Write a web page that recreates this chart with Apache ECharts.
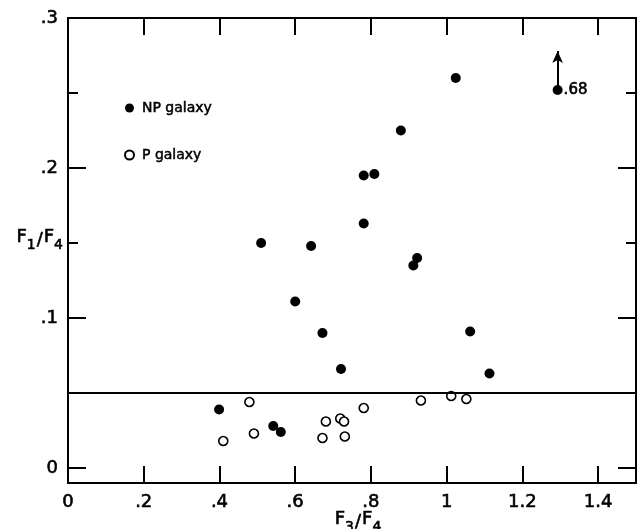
<!DOCTYPE html>
<html>
<head>
<meta charset="utf-8">
<script src="https://cdn.jsdelivr.net/npm/echarts@6/dist/echarts.min.js"></script>
<style>
html,body{margin:0;padding:0;background:#fff;}
#chart{width:639px;height:529px;}
</style>
</head>
<body>
<div id="chart"></div>
<script>
// ---- data ----
const xTickValues = [0, 0.2, 0.4, 0.6, 0.8, 1, 1.2, 1.4];
const yMajorTicks = [0, 0.1, 0.2, 0.3];
const yMinorTicks = [0.05, 0.15, 0.25];

const npX = [0.399, 0.542, 0.562, 0.510, 0.600, 0.642, 0.672, 0.721, 0.781, 0.781, 0.809, 0.879, 0.912, 0.922, 1.024, 1.062, 1.113];
const npY = [0.039, 0.028, 0.024, 0.150, 0.111, 0.148, 0.090, 0.066, 0.163, 0.195, 0.196, 0.225, 0.135, 0.140, 0.260, 0.091, 0.063];

const pX = [0.410, 0.479, 0.491, 0.672, 0.681, 0.719, 0.729, 0.731, 0.781, 0.932, 1.012, 1.052];
const pY = [0.018, 0.044, 0.023, 0.020, 0.031, 0.033, 0.031, 0.021, 0.040, 0.045, 0.048, 0.046];

// lower-limit point (true value .68, off the scale)
const limitX = [1.293];
const limitY = [0.252];
const limitLabel = ['.68'];
const limitArrowTop = 0.278;

const dividerY = 0.05;

// ---- chart ----
const FONT = 'DejaVu Sans';
const INK = '#000';
const fmt = v => (v === 0 ? '0' : String(+v.toFixed(2)).replace(/^0\./, '.'));
const thick = { textBorderColor: INK, textBorderWidth: 0.6 };

const npData = npX.map((x, i) => [x, npY[i]]);
limitX.forEach((x, i) => npData.push({
  value: [x, limitY[i]],
  label: Object.assign({ show: true, formatter: limitLabel[i], position: 'right', distance: 1,
           color: INK, fontFamily: FONT, fontSize: 15 }, thick)
}));
const pData = pX.map((x, i) => [x, pY[i]]);

const lineStyle = { color: INK, width: 2 };
const baseX = {
  type: 'value', min: 0, max: 1.5, offset: 0,
  splitLine: { show: false },
  axisLine: { show: true, onZero: false, lineStyle },
};
const baseY = {
  type: 'value', min: -0.01, max: 0.3, offset: 0,
  splitLine: { show: false },
  axisLine: { show: true, onZero: false, lineStyle },
};
const hiddenLine = { show: false, onZero: false };
const subRich = {
  f: Object.assign({ fontSize: 18, color: INK, fontFamily: FONT }, thick),
  sl: Object.assign({ fontSize: 18, color: INK, fontFamily: FONT, padding: [6, 1, 0, 1] }, thick),
  s: Object.assign({ fontSize: 14, color: INK, fontFamily: FONT, padding: [16, 0, 0, 0] }, thick)
};

const option = {
  backgroundColor: '#fff',
  animation: false,
  textStyle: { fontFamily: FONT },
  grid: { left: 68, right: 3, top: 18, bottom: 46, containLabel: false, outerBoundsMode: 'none' },
  legend: {
    orient: 'vertical', left: 119, top: 95,
    itemWidth: 9, itemHeight: 9, itemGap: 31,
    icon: 'circle',
    textStyle: Object.assign({ fontFamily: FONT, fontSize: 14, color: INK, lineHeight: 16, padding: [0, 0, 0, 3] }, { textBorderColor: INK, textBorderWidth: 0.5 }),
    data: ['NP galaxy', 'P galaxy']
  },
  xAxis: [
    Object.assign({}, baseX, {
      position: 'bottom',
      axisTick: { show: true, inside: true, length: 17, customValues: xTickValues, lineStyle },
      axisLabel: Object.assign({ show: true, customValues: xTickValues, formatter: fmt, margin: 10,
                   fontSize: 18, color: INK, fontFamily: FONT }, thick),
      name: '{f|F}{s|3}{sl|/}{f|F}{s|4}',
      nameLocation: 'middle', nameGap: 21, nameMoveOverlap: false,
      nameTextStyle: { rich: subRich, padding: [0, 0, 0, 12] }
    }),
    Object.assign({}, baseX, {
      position: 'top',
      axisTick: { show: true, inside: true, length: 17, customValues: xTickValues, lineStyle },
      axisLabel: { show: false }
    })
  ],
  yAxis: [
    Object.assign({}, baseY, {
      position: 'left',
      axisTick: { show: true, inside: true, length: 18, customValues: yMajorTicks, lineStyle },
      axisLabel: Object.assign({ show: true, customValues: yMajorTicks, formatter: fmt, margin: 10,
                   fontSize: 18, color: INK, fontFamily: FONT }, thick),
      name: '{f|F}{s|1}{sl|/}{f|F}{s|4}',
      nameLocation: 'middle', nameRotate: 0, nameGap: 5, nameMoveOverlap: false,
      nameTextStyle: { rich: subRich, padding: [0, 0, 26, 0] }
    }),
    Object.assign({}, baseY, {
      position: 'left', axisLine: hiddenLine,
      axisTick: { show: true, inside: true, length: 10, customValues: yMinorTicks, lineStyle },
      axisLabel: { show: false }
    }),
    Object.assign({}, baseY, {
      position: 'right', axisLine: hiddenLine,
      axisTick: { show: true, inside: true, length: 10, customValues: yMinorTicks, lineStyle },
      axisLabel: { show: false }
    }),
    Object.assign({}, baseY, {
      position: 'right',
      axisTick: { show: true, inside: true, length: 18, customValues: yMajorTicks, lineStyle },
      axisLabel: { show: false }
    })
  ],
  series: [
    {
      name: 'NP galaxy', type: 'scatter', xAxisIndex: 0, yAxisIndex: 0,
      symbol: 'circle', symbolSize: 10,
      itemStyle: { color: INK, opacity: 1 },
      data: npData,
      markLine: {
        silent: true, symbol: ['none', 'arrow'], symbolSize: [8, 12],
        lineStyle: { color: INK, width: 2, type: 'solid' },
        label: { show: false },
        data: limitX.map((x, i) => [{ coord: [x, limitY[i]] }, { coord: [x, limitArrowTop] }])
      }
    },
    {
      name: 'P galaxy', type: 'scatter', xAxisIndex: 0, yAxisIndex: 0,
      symbol: 'circle', symbolSize: 9,
      itemStyle: { color: '#fff', borderColor: INK, borderWidth: 1.6, opacity: 1 },
      data: pData,
      markLine: {
        silent: true, symbol: ['none', 'none'],
        lineStyle: { color: INK, width: 2, type: 'solid' },
        label: { show: false },
        data: [{ yAxis: dividerY }]
      }
    }
  ]
};

const chart = echarts.init(document.getElementById('chart'), null, { renderer: 'canvas' });
chart.setOption(option);
</script>
</body>
</html>
